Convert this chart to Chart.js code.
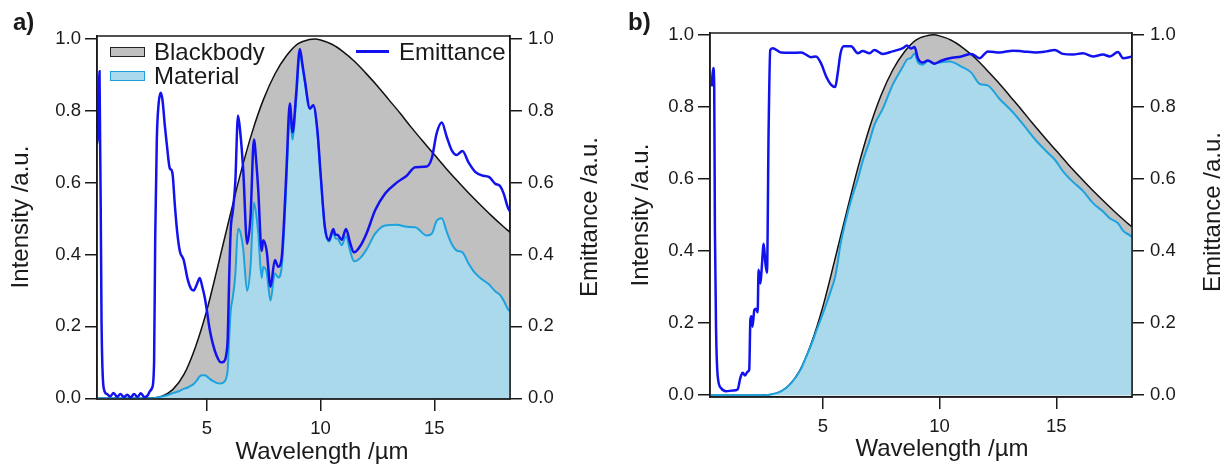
<!DOCTYPE html>
<html>
<head>
<meta charset="utf-8">
<title>Blackbody / Material / Emittance</title>
<script src="https://cdn.jsdelivr.net/npm/chart.js@4.4.1/dist/chart.umd.min.js"></script>
<style>
  body { margin: 0; background: #fff; }
  #wrap { position: relative; width: 1229px; height: 465px; overflow: hidden;
          font-family: "Liberation Sans", Arial, sans-serif; color: #1a1a1a; }
  .panel { position: absolute; top: 0; }
  .t { position: absolute; white-space: nowrap; font-size: 24px; line-height: 28px; }
  .c { width: 300px; text-align: center; }
  .rot { transform: rotate(-90deg); }
  .lab { font-weight: bold; }
  .sw { position: absolute; box-sizing: border-box; }
</style>
</head>
<body>
<div id="wrap">
  <canvas id="chartA" class="panel" width="614" height="465" style="left:0"></canvas>
  <canvas id="chartB" class="panel" width="615" height="465" style="left:614px"></canvas>

  <!-- etiquetas de panel -->
  <div class="t lab" style="left:13px;top:8px">a)</div>
  <div class="t lab" style="left:628px;top:8px">b)</div>

  <!-- titulos de ejes -->
  <div class="t c rot" style="left:-130px;top:203px">Intensity /a.u.</div>
  <div class="t c rot" style="left:439px;top:203px">Emittance /a.u.</div>
  <div class="t c" style="left:172px;top:437px">Wavelength /µm</div>
  <div class="t c rot" style="left:490px;top:201px">Intensity /a.u.</div>
  <div class="t c rot" style="left:1062px;top:198px">Emittance /a.u.</div>
  <div class="t c" style="left:792px;top:434px">Wavelength /µm</div>

  <!-- leyenda panel a -->
  <div class="sw" style="left:110px;top:47px;width:35px;height:10px;background:#c0c0c0;border:1.5px solid #222"></div>
  <div class="t" style="left:154px;top:38px">Blackbody</div>
  <div class="sw" style="left:110px;top:71px;width:35px;height:10px;background:#a9d9ea;border:1.5px solid #1ea2de"></div>
  <div class="t" style="left:154px;top:62px">Material</div>
  <div class="sw" style="left:356px;top:50px;width:33px;height:2.5px;background:#1212ee"></div>
  <div class="t" style="left:399px;top:38px">Emittance</div>
</div>

<script>
// ticks
const xTicks = [5, 10, 15];
const yTicks = [0, 0.2, 0.4, 0.6, 0.8, 1.0];

// cuerpo negro (igual en ambos paneles)
const bbWave = [0.17, 1, 2, 2.5, 3, 3.5, 4, 4.5, 5, 5.5, 6, 6.5, 7, 7.5, 8, 8.5, 9, 9.5, 9.75, 10,
  10.5, 11, 11.5, 12, 12.5, 13, 13.5, 14, 14.5, 15, 15.5, 16, 16.5, 17, 17.5, 18, 18.35];
const bbVal = [0, 0, 0, 0.0005, 0.005, 0.024, 0.067, 0.143, 0.245, 0.372, 0.503, 0.63, 0.742, 0.833, 0.903, 0.953, 0.986, 0.998, 1.0, 0.997,
  0.985, 0.964, 0.937, 0.904, 0.869, 0.831, 0.793, 0.753, 0.715, 0.678, 0.641, 0.606, 0.572, 0.540, 0.509, 0.480, 0.461];

// panel a
const aWave = [0.17, 0.19, 0.28, 0.37, 0.46, 0.6, 0.75, 0.9, 1.05, 1.2, 1.35, 1.5, 1.65, 1.8, 1.95, 2.1, 2.25, 2.4, 2.5, 2.6,
  2.68, 2.73, 2.8, 2.88, 2.97, 3.05, 3.15, 3.25, 3.37, 3.45, 3.5, 3.59, 3.7, 3.81, 3.98, 4.16, 4.3, 4.42, 4.55, 4.69,
  4.8, 4.91, 5.0, 5.13, 5.27, 5.42, 5.61, 5.75, 5.85, 5.92, 5.98, 6.05, 6.14, 6.25, 6.37, 6.47, 6.6, 6.77, 6.92, 7.07,
  7.17, 7.26, 7.41, 7.48, 7.63, 7.8, 7.99, 8.14, 8.29, 8.4, 8.5, 8.65, 8.77, 8.92, 9.09, 9.2, 9.31, 9.53, 9.68, 9.86,
  10.0, 10.19, 10.37, 10.56, 10.65, 10.74, 10.93, 11.12, 11.3, 11.47, 11.74, 12.03, 12.4, 12.84, 13.35, 13.8, 14.16, 14.67, 14.9, 15.1,
  15.33, 15.55, 15.77, 15.99, 16.24, 16.5, 16.8, 17.1, 17.4, 17.68, 17.9, 18.05, 18.24, 18.33];
const aEmit = [0.71, 0.71, 0.91, 0.21, 0.03, 0.012, 0.005, 0.015, 0.004, 0.012, 0.003, 0.01, 0.002, 0.012, 0.004, 0.014, 0.003, 0.008, 0.02, 0.03,
  0.1, 0.45, 0.72, 0.82, 0.85, 0.83, 0.76, 0.70, 0.64, 0.635, 0.62, 0.54, 0.46, 0.41, 0.385, 0.33, 0.305, 0.30, 0.315, 0.335,
  0.31, 0.28, 0.245, 0.19, 0.15, 0.12, 0.10, 0.102, 0.12, 0.17, 0.33, 0.47, 0.52, 0.60, 0.787, 0.74, 0.634, 0.43, 0.505, 0.72,
  0.66, 0.58, 0.41, 0.44, 0.41, 0.31, 0.385, 0.366, 0.39, 0.5, 0.634, 0.82, 0.74, 0.84, 0.972, 0.93, 0.884, 0.806, 0.815, 0.745,
  0.626, 0.476, 0.44, 0.471, 0.455, 0.455, 0.441, 0.471, 0.432, 0.406, 0.423, 0.46, 0.523, 0.57, 0.60, 0.62, 0.643, 0.645, 0.67, 0.736,
  0.767, 0.727, 0.69, 0.677, 0.688, 0.657, 0.63, 0.62, 0.616, 0.597, 0.59, 0.57, 0.53, 0.52];
const aMat = [0, 0, 0, 0, 0, 0, 0, 0, 0, 0, 0, 0, 0, 0, 0, 0, 0, 0, 0, 0,
  0.0002, 0.001, 0.0018, 0.0029, 0.0043, 0.005, 0.0068, 0.0084, 0.011, 0.013, 0.015, 0.016, 0.018, 0.0205, 0.026, 0.030, 0.035, 0.040, 0.049, 0.061,
  0.064, 0.064, 0.061, 0.054, 0.048, 0.043, 0.041, 0.045, 0.056, 0.082, 0.165, 0.244, 0.281, 0.342, 0.472, 0.463, 0.415, 0.299, 0.367, 0.545,
  0.512, 0.459, 0.335, 0.365, 0.35, 0.272, 0.348, 0.336, 0.364, 0.472, 0.604, 0.79, 0.719, 0.824, 0.961, 0.923, 0.88, 0.805, 0.815, 0.744,
  0.624, 0.473, 0.436, 0.462, 0.445, 0.444, 0.426, 0.451, 0.41, 0.381, 0.39, 0.415, 0.458, 0.481, 0.483, 0.477, 0.476, 0.453, 0.459, 0.493,
  0.501, 0.463, 0.429, 0.411, 0.406, 0.376, 0.348, 0.331, 0.317, 0.298, 0.287, 0.272, 0.248, 0.242];

// panel b
const bWave = [0.17, 0.24, 0.31, 0.35, 0.38, 0.43, 0.5, 0.64, 0.86, 1.14, 1.35, 1.47, 1.57, 1.67, 1.78, 1.85, 1.9, 1.95, 1.99, 2.07,
  2.14, 2.21, 2.25, 2.33, 2.38, 2.47, 2.54, 2.61, 2.68, 2.75, 2.85, 3.21, 3.64, 4.07, 4.28, 4.5, 4.71, 4.93, 5.14, 5.36,
  5.53, 5.64, 5.76, 5.9, 6.21, 6.5, 6.71, 7.0, 7.21, 7.57, 7.99, 8.43, 8.6, 8.78, 8.93, 9.07, 9.28, 9.5, 9.78, 10.07,
  10.43, 10.93, 11.36, 11.71, 12.07, 12.57, 13.14, 13.57, 14.14, 14.57, 14.93, 15.28, 15.71, 16.14, 16.57, 17.0, 17.29, 17.64, 17.86, 18.14, 18.24];
const bEmit = [null, 0.857, 0.908, 0.857, 0.46, 0.18, 0.053, 0.02, 0.011, 0.013, 0.016, 0.048, 0.062, 0.055, 0.065, 0.071, 0.21, 0.219, 0.19, 0.237,
  0.24, 0.23, 0.348, 0.31, 0.348, 0.42, 0.367, 0.34, 0.737, 0.958, 0.963, 0.951, 0.95, 0.951, 0.945, 0.938, 0.94, 0.92, 0.885, 0.861,
  0.855, 0.894, 0.949, 0.968, 0.968, 0.949, 0.955, 0.949, 0.958, 0.947, 0.954, 0.963, 0.97, 0.962, 0.966, 0.935, 0.923, 0.929, 0.92, 0.928,
  0.935, 0.94, 0.947, 0.935, 0.954, 0.951, 0.956, 0.954, 0.951, 0.954, 0.958, 0.947, 0.945, 0.949, 0.94, 0.945, 0.94, 0.952, 0.935, 0.938, 0.94];
const bMat = [0, 0, 0, 0, 0, 0, 0, 0, 0, 0, 0, 0, 0, 0, 0, 0, 0, 0, 0, 0,
  0, 0, 0, 0, 0, 0, 0, 0.0003, 0.001, 0.002, 0.003, 0.0105, 0.033, 0.073, 0.105, 0.139, 0.176, 0.214, 0.251, 0.293,
  0.329, 0.369, 0.42, 0.462, 0.541, 0.60, 0.65, 0.705, 0.75, 0.795, 0.861, 0.912, 0.931, 0.936, 0.948, 0.924, 0.917, 0.927, 0.92, 0.924,
  0.926, 0.912, 0.895, 0.864, 0.859, 0.822, 0.785, 0.752, 0.706, 0.677, 0.654, 0.622, 0.592, 0.567, 0.533, 0.51, 0.491, 0.477, 0.456, 0.444, 0.439];

Chart.defaults.font.family = '"Liberation Sans", Arial, sans-serif';
Chart.defaults.color = '#1a1a1a';

// marco del area de grafico
const frame = {
  id: 'frame',
  afterDatasetsDraw(chart) {
    const { ctx, chartArea: a } = chart;
    ctx.save();
    ctx.strokeStyle = '#1a1a1a';
    ctx.lineWidth = 1.5;
    ctx.strokeRect(a.left, a.top, a.right - a.left, a.bottom - a.top);
    ctx.restore();
  }
};

function pts(xs, ys) {
  return xs.map((x, i) => ({ x: x, y: ys[i] }));
}

const gridOpts = { drawOnChartArea: false, drawTicks: true, tickLength: 12, color: '#1a1a1a', lineWidth: 1.5 };
const borderOpts = { display: true, color: '#1a1a1a', width: 1.5 };

function ejeY(pos, w, yMin, yMax) {
  return {
    type: 'linear', position: pos, min: yMin, max: yMax,
    afterBuildTicks: s => { s.ticks = yTicks.map(v => ({ value: v })); },
    afterFit: s => { s.width = w; },
    ticks: { font: { size: 18.5 }, padding: pos === 'left' ? 4 : 6, callback: v => Number(v).toFixed(1) },
    grid: gridOpts,
    border: borderOpts
  };
}

function ejeX(xMin, xMax, h) {
  return {
    type: 'linear', position: 'bottom', min: xMin, max: xMax,
    afterBuildTicks: s => { s.ticks = xTicks.map(v => ({ value: v })); },
    afterFit: s => { s.height = h; },
    ticks: { font: { size: 18.5 }, padding: 7, maxRotation: 0, autoSkip: false, callback: v => String(v) },
    grid: gridOpts,
    border: borderOpts
  };
}

function series(wave, emit, mat) {
  return [
    { label: 'Emittance', data: pts(wave, emit), yAxisID: 'y2', borderColor: '#1212ee', borderWidth: 2.5,
      pointRadius: 0, cubicInterpolationMode: 'monotone', fill: false, spanGaps: false },
    { label: 'Material', data: pts(wave, mat), yAxisID: 'y', borderColor: '#1ea2de', backgroundColor: '#a9d9ea',
      borderWidth: 2, pointRadius: 0, cubicInterpolationMode: 'monotone', fill: 'origin' },
    { label: 'Blackbody', data: pts(bbWave, bbVal), yAxisID: 'y', borderColor: '#111', backgroundColor: '#c0c0c0',
      borderWidth: 1.5, pointRadius: 0, cubicInterpolationMode: 'monotone', fill: 'origin' }
  ];
}

function crearPanel(id, datasets, cfg) {
  new Chart(document.getElementById(id), {
    type: 'line',
    data: { datasets: datasets },
    options: {
      responsive: false,
      animation: false,
      layout: { padding: { top: cfg.top, left: 0, right: 0, bottom: 0 } },
      plugins: { legend: { display: false }, tooltip: { enabled: false } },
      scales: {
        x: ejeX(cfg.xMin, cfg.xMax, cfg.bottomH),
        y: ejeY('left', cfg.leftW, cfg.yMin, cfg.yMax),
        y2: ejeY('right', cfg.rightW, cfg.yMin, cfg.yMax)
      }
    },
    plugins: [frame]
  });
}

crearPanel('chartA', series(aWave, aEmit, aMat),
  { xMin: 0.17, xMax: 18.33, yMin: -0.002, yMax: 1.008, top: 36, leftW: 97, rightW: 104, bottomH: 66 });
crearPanel('chartB', series(bWave, bEmit, bMat),
  { xMin: 0.17, xMax: 18.24, yMin: -0.005, yMax: 1.005, top: 33, leftW: 96, rightW: 97, bottomH: 68 });
</script>
</body>
</html>
